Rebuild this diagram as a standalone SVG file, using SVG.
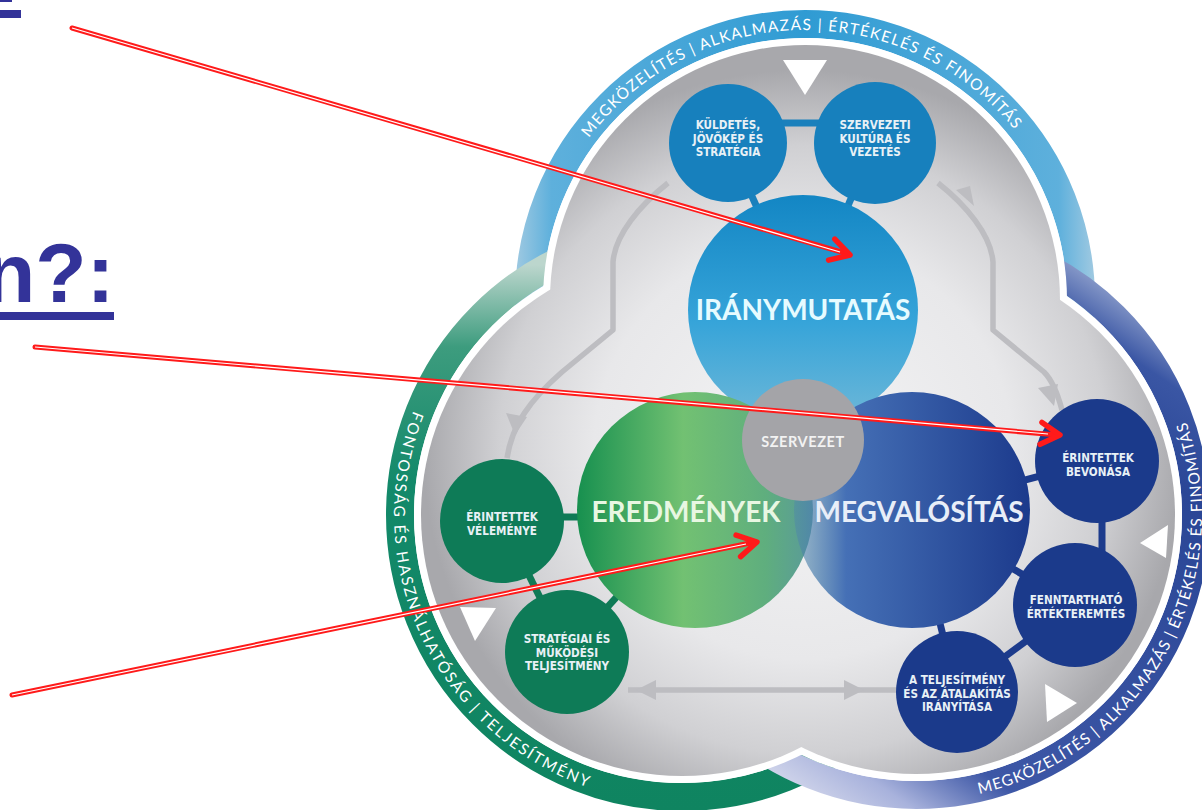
<svg xmlns="http://www.w3.org/2000/svg" width="1202" height="810" viewBox="0 0 1202 810">
<style>
  .band-txt { font-family: Lato, "Open Sans", "DejaVu Sans", sans-serif; font-size: 15.5px; fill: #ffffff; }
  .big { font-family: Lato, "Open Sans", "DejaVu Sans", sans-serif; font-weight: bold; font-size: 28px; text-anchor: middle; }
  .small { font-family: "DejaVu Sans Condensed", "DejaVu Sans", sans-serif; font-stretch: condensed; font-weight: bold; font-size: 11.6px; fill: #e8f1f6; text-anchor: middle; }
  .flow { fill: none; stroke: #bdbdc1; stroke-width: 5.5; stroke-linejoin: round; }
  .flow-head { fill: #bdbdc1; }
  .tri { fill: #ffffff; }
  .bar-blue { stroke: #1a80bc; stroke-width: 7; }
  .bar-green { stroke: #0f7a56; stroke-width: 7; }
  .bar-navy { stroke: #1c3b8c; stroke-width: 7; }
  .red { fill: none; stroke: #ff1a1a; stroke-width: 5; stroke-linecap: round; }
  .red-core { fill: none; stroke: #ffffff; stroke-width: 1.2; }
  .red-head { fill: none; stroke: #ff1a1a; stroke-width: 5.5; stroke-linecap: round; stroke-linejoin: round; }
</style>
<defs>
  <linearGradient id="bandTop" gradientUnits="userSpaceOnUse" x1="510" y1="0" x2="1100" y2="0">
    <stop offset="0" stop-color="#a9cde2"/>
    <stop offset="0.07" stop-color="#5eb0dc"/>
    <stop offset="0.5" stop-color="#2f9bd3"/>
    <stop offset="0.93" stop-color="#5eb0dc"/>
    <stop offset="1" stop-color="#a9cde2"/>
  </linearGradient>
  <linearGradient id="bandLeft" gradientUnits="userSpaceOnUse" x1="0" y1="265" x2="0" y2="810">
    <stop offset="0" stop-color="#bcd6cd"/>
    <stop offset="0.15" stop-color="#3d9c7e"/>
    <stop offset="0.4" stop-color="#13896a"/>
    <stop offset="1" stop-color="#0f8460"/>
  </linearGradient>
  <linearGradient id="bandRight" gradientUnits="userSpaceOnUse" x1="800" y1="800" x2="1150" y2="280">
    <stop offset="0" stop-color="#d4d8ec"/>
    <stop offset="0.09" stop-color="#a8b2dc"/>
    <stop offset="0.2" stop-color="#3d57a6"/>
    <stop offset="0.75" stop-color="#2a4696"/>
    <stop offset="0.88" stop-color="#3a56a4"/>
    <stop offset="1" stop-color="#b8c4e0"/>
  </linearGradient>
  <radialGradient id="interior" gradientUnits="userSpaceOnUse" cx="803" cy="450" r="380">
    <stop offset="0" stop-color="#f4f4f5"/>
    <stop offset="0.55" stop-color="#e8e8ea"/>
    <stop offset="0.8" stop-color="#d0d0d3"/>
    <stop offset="1" stop-color="#a8a8ac"/>
  </radialGradient>
  <linearGradient id="gTop" x1="0" y1="0" x2="0" y2="1">
    <stop offset="0" stop-color="#1386c4"/>
    <stop offset="0.55" stop-color="#36a4d9"/>
    <stop offset="1" stop-color="#6fb8d8"/>
  </linearGradient>
  <linearGradient id="gGreen" x1="0" y1="0" x2="1" y2="0">
    <stop offset="0" stop-color="#17904f"/>
    <stop offset="0.45" stop-color="#72c172"/>
    <stop offset="0.8" stop-color="#5fae7e"/>
    <stop offset="1" stop-color="#5a9a9a"/>
  </linearGradient>
  <linearGradient id="gBlue" x1="0" y1="0" x2="1" y2="0">
    <stop offset="0" stop-color="#4f88a8" stop-opacity="0.5"/>
    <stop offset="0.22" stop-color="#4570b6"/>
    <stop offset="1" stop-color="#1c3a8c"/>
  </linearGradient>
  <path id="arcTop" d="M 560.3,185.9 A 270 270 0 0 1 1045.6,177.4"/>
  <path id="arcLeft" d="M 432.6,371 A 288 288 0 0 0 632,798.6"/>
  <path id="arcRight" d="M 926,800.8 A 286 286 0 0 0 1163.7,372"/>
</defs>

<rect width="1202" height="810" fill="#ffffff"/>

<!-- outer trefoil ring: coloured bands, white rim, grey interior -->
<g id="ring">
  <circle cx="805" cy="300" r="276" fill="none" stroke="url(#bandTop)" stroke-width="28"/>
  <circle cx="682" cy="515" r="282" fill="none" stroke="url(#bandLeft)" stroke-width="28"/>
  <circle cx="916" cy="515" r="280" fill="none" stroke="url(#bandRight)" stroke-width="28"/>
  <g fill="#ffffff">
    <circle cx="805" cy="300" r="262"/>
    <circle cx="682" cy="515" r="268"/>
    <circle cx="916" cy="515" r="266"/>
  </g>
  <g fill="url(#interior)">
    <circle cx="805" cy="300" r="255"/>
    <circle cx="682" cy="515" r="261"/>
    <circle cx="916" cy="515" r="259"/>
  </g>
  <text class="band-txt" letter-spacing="1.3"><textPath href="#arcTop" startOffset="50%" text-anchor="middle">MEGKÖZELÍTÉS | ALKALMAZÁS | ÉRTÉKELÉS ÉS FINOMÍTÁS</textPath></text>
  <text class="band-txt" letter-spacing="2"><textPath href="#arcLeft" startOffset="50%" text-anchor="middle">FONTOSSÁG ÉS HASZNÁLHATÓSÁG | TELJESÍTMÉNY</textPath></text>
  <text class="band-txt" letter-spacing="1.1"><textPath href="#arcRight" startOffset="50%" text-anchor="middle">MEGKÖZELÍTÉS | ALKALMAZÁS | ÉRTÉKELÉS ÉS FINOMÍTÁS</textPath></text>
  <!-- direction markers -->
  <polygon class="tri" points="783,60 827,60 805,95"/>
  <polygon class="tri" points="460,607 496,608 475,641"/>
  <polygon class="tri" points="1140,543 1168,525 1166,558"/>
  <polygon class="tri" points="1045,684 1047,722 1077,703"/>
</g>

<g id="connectors">
  <!-- grey flow arrows -->
  <path class="flow" d="M 668,183 C 640,205 615,235 613,262 L 613,330 L 562,372 C 530,400 512,425 507,458"/>
  <polygon class="flow-head" points="506,413 527,417 515,435"/>
  <path class="flow" d="M 938,183 C 966,205 991,235 993,262 L 993,330 L 1044,372 C 1052,380 1058,395 1062,410"/>
  <polygon class="flow-head" points="956,190 974,206 970,186"/>
  <polygon class="flow-head" points="1038,388 1058,384 1054,406"/>
  <path class="flow" d="M 628,690 L 898,690"/>
  <polygon class="flow-head" points="636,690 656,680 656,700"/>
  <polygon class="flow-head" points="864,690 844,680 844,700"/>
  <!-- links between circles -->
  <line class="bar-blue" x1="770" y1="123" x2="835" y2="123"/>
  <line class="bar-blue" x1="728" y1="143" x2="803" y2="310"/>
  <line class="bar-blue" x1="875" y1="143" x2="803" y2="310"/>
  <line class="bar-green" x1="540" y1="517" x2="600" y2="517"/>
  <line class="bar-green" x1="502" y1="521" x2="567" y2="652"/>
  <line class="bar-green" x1="567" y1="652" x2="695" y2="510"/>
  <line class="bar-navy" x1="1097" y1="461" x2="912" y2="510"/>
  <line class="bar-navy" x1="1102" y1="500" x2="1102" y2="560"/>
  <line class="bar-navy" x1="1075" y1="605" x2="912" y2="510"/>
  <line class="bar-navy" x1="1075" y1="605" x2="957" y2="692"/>
  <line class="bar-navy" x1="957" y1="692" x2="912" y2="510"/>
</g>

<g id="node-iranymutatas">
  <circle cx="803" cy="310" r="115" fill="url(#gTop)"/>
</g>
<g id="node-eredmenyek">
  <circle cx="695" cy="510" r="118" fill="url(#gGreen)"/>
</g>
<g id="node-megvalositas">
  <circle cx="912" cy="510" r="118" fill="url(#gBlue)"/>
</g>
<g id="labels-big">
  <text class="big" x="803" y="320" fill="#e6fbff">IRÁNYMUTATÁS</text>
  <text class="big" x="686" y="522" fill="#e8f7e2">EREDMÉNYEK</text>
  <text class="big" x="919" y="522" fill="#e8eef8">MEGVALÓSÍTÁS</text>
</g>
<g id="node-szervezet">
  <circle cx="803" cy="440" r="61" fill="#a4a4a8"/>
  <text x="803" y="447" text-anchor="middle" font-family="Lato, 'Open Sans', sans-serif" font-weight="bold" font-size="14.5" letter-spacing="0.6" fill="#f2f2f2">SZERVEZET</text>
</g>

<g id="node-kuldetes">
  <circle cx="728" cy="143" r="59" fill="#1780bd"/>
  <text class="small" x="728" y="129">KÜLDETÉS,</text>
  <text class="small" x="728" y="142.5">JÖVŐKÉP ÉS</text>
  <text class="small" x="728" y="156">STRATÉGIA</text>
</g>
<g id="node-kultura">
  <circle cx="875" cy="143" r="61" fill="#1780bd"/>
  <text class="small" x="875" y="129">SZERVEZETI</text>
  <text class="small" x="875" y="142.5">KULTÚRA ÉS</text>
  <text class="small" x="875" y="156">VEZETÉS</text>
</g>
<g id="node-velemenye">
  <circle cx="502" cy="521" r="62" fill="#0e7b57"/>
  <text class="small" x="502" y="521">ÉRINTETTEK</text>
  <text class="small" x="502" y="534.5">VÉLEMÉNYE</text>
</g>
<g id="node-teljesitmeny">
  <circle cx="567" cy="652" r="62" fill="#0e7b57"/>
  <text class="small" x="567" y="643">STRATÉGIAI ÉS</text>
  <text class="small" x="567" y="656.5">MŰKÖDÉSI</text>
  <text class="small" x="567" y="670">TELJESÍTMÉNY</text>
</g>
<g id="node-bevonasa">
  <circle cx="1097" cy="461" r="62" fill="#1b3a8b"/>
  <text class="small" x="1098" y="462">ÉRINTETTEK</text>
  <text class="small" x="1098" y="475.5">BEVONÁSA</text>
</g>
<g id="node-ertekteremtes">
  <circle cx="1075" cy="605" r="62" fill="#1b3a8b"/>
  <text class="small" x="1076" y="604">FENNTARTHATÓ</text>
  <text class="small" x="1076" y="617.5">ÉRTÉKTEREMTÉS</text>
</g>
<g id="node-iranyitasa">
  <circle cx="957" cy="692" r="61" fill="#1b3a8b"/>
  <text class="small" x="957" y="684">A TELJESÍTMÉNY</text>
  <text class="small" x="957" y="697.5">ÉS AZ ÁTALAKÍTÁS</text>
  <text class="small" x="957" y="711">IRÁNYÍTÁSA</text>
</g>

<!-- heading fragments on the left -->
<g id="heading" fill="#333399">
  <rect x="0" y="0" width="12" height="2"/>
  <rect x="0" y="10" width="21" height="8"/>
  <text x="-16" y="302" font-family="'Liberation Sans', Arial, sans-serif" font-weight="bold" font-size="84">n?:</text>
  <rect x="0" y="312" width="114" height="8"/>
</g>

<!-- red pointer arrows -->
<g id="pointers">
  <line class="red" x1="72" y1="28" x2="848" y2="254"/>
  <line class="red-core" x1="72" y1="28" x2="840" y2="252"/>
  <polyline class="red-head" points="834.8,239.1 850,255 828.6,260.2"/>
  <line class="red" x1="35" y1="347" x2="1058" y2="435"/>
  <line class="red-core" x1="35" y1="347" x2="1048" y2="434"/>
  <polyline class="red-head" points="1042,422.4 1060,435 1040.1,444.3"/>
  <line class="red" x1="12" y1="695" x2="755" y2="542"/>
  <line class="red-core" x1="12" y1="695" x2="746" y2="544"/>
  <polyline class="red-head" points="736.1,535.1 757,542 740.6,556.6"/>
</g>
</svg>
